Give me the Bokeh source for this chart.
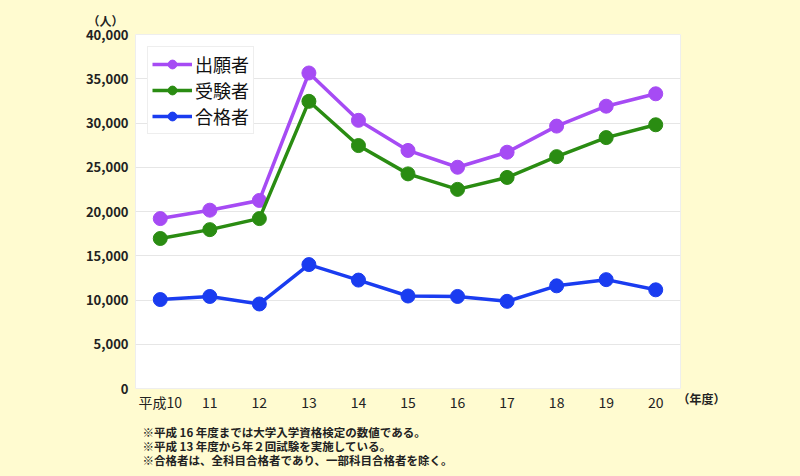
from bokeh.plotting import figure
from bokeh.models import (ColumnDataSource, Legend, LegendItem, Title, NumeralTickFormatter,
                          FixedTicker, Range1d, LinearAxis)
from bokeh.embed import file_html
from bokeh.resources import INLINE

years = ["平成10", "11", "12", "13", "14", "15", "16", "17", "18", "19", "20"]
applicants = [19200, 20150, 21250, 35650, 30300, 26900, 25000, 26700, 29650, 31900, 33300]
examinees = [16950, 17950, 19200, 32450, 27450, 24250, 22500, 23850, 26200, 28350, 29800]
passers = [10050, 10400, 9550, 14000, 12250, 10450, 10400, 9850, 11600, 12300, 11150]
series_names = ["出願者", "受験者", "合格者"]
y_unit = "（人）"
x_unit = "（年度）"
notes = ["※平成 16 年度までは大学入学資格検定の数値である。",
         "※平成 13 年度から年２回試験を実施している。",
         "※合格者は、全科目合格者であり、一部科目合格者を除く。"]

BG = "#FFFBD0"
FONT = "Noto Sans CJK JP"
colors = ["#A64BF4", "#2A8C12", "#1A3CF0"]

p = figure(x_range=years, y_range=Range1d(0, 40000), width=792, height=476,
           frame_width=545, frame_height=354,
           output_backend="svg", toolbar_location=None,
           min_border_left=135, min_border_right=112, min_border_top=34, min_border_bottom=88)
p.background_fill_color = "white"
p.border_fill_color = BG
p.outline_line_color = "#EEEEEE"

src = ColumnDataSource(dict(x=years, a=applicants, b=examinees, c=passers))
items = []
for col, name, c in zip(["a", "b", "c"], series_names, colors):
    r1 = p.line("x", col, source=src, line_color=c, line_width=3.5)
    r2 = p.scatter("x", col, source=src, size=14, fill_color=c, line_color=c)
    items.append(LegendItem(label=name, renderers=[r1, r2]))

legend = Legend(items=items, location="top_left")
legend.label_text_font = FONT
legend.label_text_font_size = "18px"
legend.label_text_font_style = "normal"
legend.label_text_color = "#111111"
legend.border_line_color = "#DDDDDD"
legend.background_fill_color = "white"
legend.background_fill_alpha = 1.0
legend.glyph_width = 40
legend.label_standoff = 3
legend.spacing = 0
legend.padding = 4
legend.margin = 12
legend.label_height = 22
legend.glyph_height = 22
p.add_layout(legend)

p.yaxis.ticker = FixedTicker(ticks=list(range(0, 40001, 5000)))
p.yaxis.formatter = NumeralTickFormatter(format="0,0")

# right-side helper axis carrying the x unit label at the bottom edge
p.extra_y_ranges = {"unit": Range1d(0, 1)}
unit_axis = LinearAxis(y_range_name="unit", ticker=FixedTicker(ticks=[0]),
                       major_label_overrides={0: "\n" + x_unit})
p.add_layout(unit_axis, "right")

for ax in (p.xaxis[0], p.yaxis[0], unit_axis):
    ax.axis_line_color = None
    ax.major_tick_line_color = None
    ax.minor_tick_line_color = None
    ax.major_tick_out = 0
    ax.major_tick_in = 0
    ax.minor_tick_out = 0
    ax.minor_tick_in = 0
    ax.major_label_text_font = FONT
    ax.major_label_text_color = "#222222"
p.yaxis[0].major_label_text_font_size = "13px"
p.yaxis[0].major_label_text_font_style = "bold"
p.xaxis[0].major_label_text_font_size = "14px"
p.xaxis[0].major_label_text_font_style = "normal"
p.yaxis[0].major_label_standoff = 7
p.xaxis[0].major_label_standoff = 3
unit_axis.major_label_text_font_size = "12px"
unit_axis.major_label_text_font_style = "bold"
unit_axis.major_label_standoff = -3

p.xgrid.grid_line_color = None
p.ygrid.grid_line_color = "#E6E6E6"
p.ygrid.grid_line_width = 1

p.add_layout(Title(text=y_unit, align="left", offset=-48, standoff=12,
                   text_font=FONT, text_font_size="12px", text_font_style="bold",
                   text_color="#222222"), "above")
p.add_layout(Title(text="\n".join(notes), align="left", offset=7, standoff=16,
                   text_font=FONT, text_font_size="11.5px", text_font_style="bold",
                   text_color="#222222", text_line_height=0.88), "below")

html = file_html(p, INLINE)
html = html.replace("<body>", '<body style="background:%s;">' % BG)
open("out.html", "w").write(html)
